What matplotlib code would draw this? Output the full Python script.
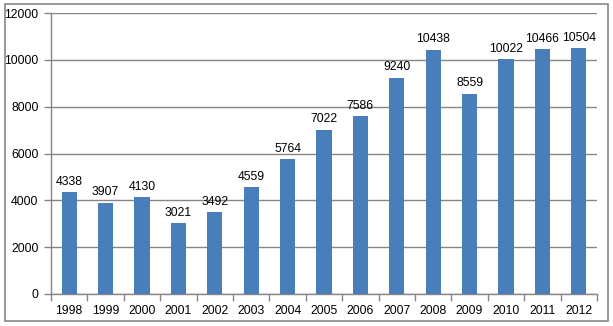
import matplotlib

matplotlib.use("Agg")
import matplotlib.pyplot as plt
from matplotlib.patches import Rectangle

years = ["1998", "1999", "2000", "2001", "2002", "2003", "2004", "2005",
         "2006", "2007", "2008", "2009", "2010", "2011", "2012"]
values = [4338, 3907, 4130, 3021, 3492, 4559, 5764, 7022,
          7586, 9240, 10438, 8559, 10022, 10466, 10504]
y_ticks = [0, 2000, 4000, 6000, 8000, 10000, 12000]

W, H = 613, 326
fig = plt.figure(figsize=(W / 100, H / 100), dpi=100)
plt.rcParams["font.family"] = ["Liberation Sans", "DejaVu Sans"]

# outer chart border
fig.patches.append(Rectangle((5 / W, 1 - 321 / H), 603 / W, 317 / H,
                             transform=fig.transFigure, fill=False,
                             edgecolor="#878787", linewidth=1.2))

ax = fig.add_axes([51 / W, 1 - 294 / H, 546 / W, 281 / H])
x = range(len(years))
ax.bar(x, values, width=0.42, color="#4A7EBB", zorder=3)
for xi, v in zip(x, values):
    ax.text(xi, v + 180, str(v), ha="center", va="bottom", fontsize=8.8,
            color="black", zorder=4)

ax.set_xlim(-0.5, len(years) - 0.5)
ax.set_ylim(0, 12000)
ax.set_yticks(y_ticks)
ax.set_yticklabels([str(t) for t in y_ticks], fontsize=8.8)
ax.yaxis.grid(True, color="#868686", linewidth=1, zorder=0)
ax.set_axisbelow(True)

# category labels centred, tick marks between categories
ax.set_xticks(list(x))
ax.set_xticklabels(years, fontsize=8.8)
ax.tick_params(axis="x", length=0, pad=8)
ax.set_xticks([i - 0.5 for i in range(len(years) + 1)], minor=True)
ax.tick_params(axis="x", which="minor", length=5, color="#868686", width=1)
ax.tick_params(axis="y", length=5, color="#868686", width=1, pad=4)

for side in ("top", "right"):
    ax.spines[side].set_visible(False)
for side in ("left", "bottom"):
    ax.spines[side].set_color("#868686")
    ax.spines[side].set_linewidth(1)

fig.savefig("out.png", dpi=100)
